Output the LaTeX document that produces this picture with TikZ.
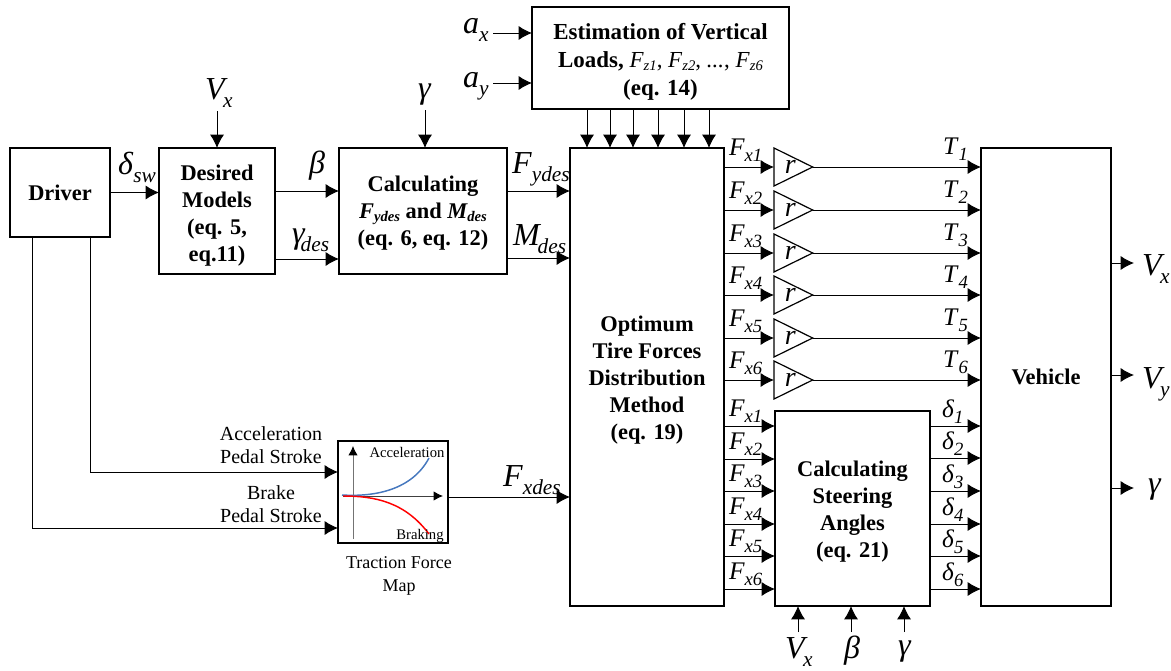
\documentclass[tikz,border=0pt]{standalone}
\usepackage{fontspec}
\setmainfont{Liberation Serif}
\usepackage{tikz}
\usetikzlibrary{arrows.meta,positioning,calc,shapes.geometric}

% symbol with subscript: #1 letter, #2 index
\newcommand{\symF}[2]{{\fontsize{19}{19}\selectfont\textit{#1}}\raisebox{-4.5pt}{\fontsize{14}{14}\selectfont\textit{#2}}}
\newcommand{\symB}[2]{{\fontsize{24}{24}\selectfont\textit{#1}}\raisebox{-6pt}{\fontsize{16}{16}\selectfont\textit{#2}}}
\newcommand{\symL}[2]{\textit{#1}\raisebox{-2.5pt}{\fontsize{11}{11}\selectfont\textit{#2}}}
\newcommand{\symR}{\hspace*{7pt}\raisebox{-6pt}{\fontsize{21}{21}\selectfont\textit{r}}}
% taller first line, pushes a block text down
\newcommand{\dropby}[1]{\rule{0pt}{#1}}

\tikzset{
  blockbox/.style={draw, line width=1.1pt, inner sep=0pt, outer sep=0pt, align=center, font=\fontsize{16.8}{20.25}\selectfont\bfseries},
  gainbox/.style={draw, line width=0.9pt, shape=isosceles triangle, isosceles triangle stretches, minimum width=28.5pt, minimum height=29pt, inner sep=0pt, outer sep=0pt, anchor=west},
  arr/.style={-{Latex[length=10pt,width=10.5pt]}, line width=0.7pt},
  sym/.style={anchor=base west, inner sep=0pt, outer sep=0pt},
  lbl/.style={inner sep=0pt, align=center, font=\fontsize{13.5}{17.5}\selectfont}
}

\begin{document}
\begin{tikzpicture}[x=0.75pt, y=-0.75pt]
\useasboundingbox (0,0) rectangle (1171,671);

% main blocks
\node[blockbox, minimum width=75pt, minimum height=66.75pt] (driver) at (60,192.5) {Driver};
\node[blockbox, minimum width=87pt, minimum height=94.5pt] (desired) at (217,211) {\dropby{19pt}Desired\\Models\\(eq. 5,\\eq.11)};
\node[blockbox, minimum width=126pt, minimum height=94.5pt] (calc) at (423,211) {\dropby{15pt}Calculating\\\textit{F\raisebox{-2pt}{\fontsize{11}{11}\selectfont ydes}} and \textit{M\raisebox{-2pt}{\fontsize{11}{11}\selectfont des}}\\(eq. 6, eq. 12)};
\node[blockbox, minimum width=192.75pt, minimum height=76.5pt, font=\fontsize{17.2}{21}\selectfont\bfseries] (est) at (660.5,58) {\dropby{17.5pt}Estimation of Vertical\\Loads, {\mdseries\symL{F}{z1}, \symL{F}{z2}, \textit{...}, \symL{F}{z6}}\\(eq. 14)};
\node[blockbox, minimum width=115.5pt, minimum height=343.5pt] (opt) at (647,377) {\dropby{16pt}Optimum\\Tire Forces\\Distribution\\Method\\(eq. 19)};
\node[blockbox, minimum width=97.5pt, minimum height=343.5pt] (veh) at (1046,377) {Vehicle};
\node[blockbox, minimum width=116.25pt, minimum height=146.25pt] (steer) at (852.5,508.5) {\dropby{16pt}Calculating\\Steering\\Angles\\(eq. 21)};
\node[blockbox, minimum width=82.5pt, minimum height=76.5pt] (map) at (393,492) {};

% traction force map
\coordinate (mapv) at (353,539);
\coordinate (maph) at (343,496);
\draw[-{Latex[length=7pt,width=7pt,black]}, line width=0.7pt, black!55] (mapv) -- (353,446);
\draw[-{Latex[length=7pt,width=7pt,black]}, line width=0.7pt, black!75] (maph) -- (443,496);
\draw[line width=1.1pt, color={rgb,255:red,70;green,120;blue,190}] (342,495) .. controls (375,497) and (412,490) .. (429,458);
\draw[line width=1.1pt, red] (343,496) .. controls (375,496) and (405,502) .. (429,534);
\node[lbl, font=\fontsize{11}{11}\selectfont] (mapacc) at (407,452) {Acceleration};
\node[lbl, font=\fontsize{11}{11}\selectfont] (mapbrk) at (420,536) {Braking};
\node[lbl] (maptitle) at (399,576) {Traction Force\\Map};

% driver connections
\coordinate (pedacc) at (90,472);
\coordinate (pedbrk) at (32,528);
\draw[arr] (driver.east) -- (desired.west |- driver.east);
\draw[arr] (driver.south -| pedacc) -- (pedacc) -- (map.west |- pedacc);
\draw[arr] (driver.south -| pedbrk) -- (pedbrk) -- (map.west |- pedbrk);
\node[lbl, font=\fontsize{15}{17.5}\selectfont] (acclbl) at (271,445) {Acceleration\\Pedal Stroke};
\node[lbl, font=\fontsize{15}{17.5}\selectfont] (brklbl) at (271,504) {Brake\\Pedal Stroke};
\node[sym] (dsw) at (118,174) {\symB{δ}{sw}};

% top inputs
\coordinate (vxin) at (217,111);
\coordinate (gamin) at (425,110);
\coordinate (axin) at (493,33);
\coordinate (ayin) at (493,83);
\draw[arr] (vxin) -- (desired.north -| vxin);
\draw[arr] (gamin) -- (calc.north -| gamin);
\draw[arr] (axin) -- (est.west |- axin);
\draw[arr] (ayin) -- (est.west |- ayin);
\node[sym] (vxtop) at (205,99) {\symB{V\kern-1pt}{x}};
\node[sym] (gamtop) at (418,98) {\symB{γ}{}};
\node[sym] (axtop) at (463,33) {\symB{a}{x}};
\node[sym] (aytop) at (463,87) {\symB{a}{y}};

% vertical loads
\draw[arr] (587,0 |- est.south) -- (587,0 |- opt.north);
\draw[arr] (610,0 |- est.south) -- (610,0 |- opt.north);
\draw[arr] (633,0 |- est.south) -- (633,0 |- opt.north);
\draw[arr] (658,0 |- est.south) -- (658,0 |- opt.north);
\draw[arr] (684,0 |- est.south) -- (684,0 |- opt.north);
\draw[arr] (709,0 |- est.south) -- (709,0 |- opt.north);

% between the first blocks
\draw[arr] (desired.east |- 0,191) -- (calc.west |- 0,191);
\draw[arr] (desired.east |- 0,259) -- (calc.west |- 0,259);
\draw[arr] (calc.east |- 0,191) -- (opt.west |- 0,191);
\draw[arr] (calc.east |- 0,258) -- (opt.west |- 0,258);
\draw[arr] (map.east |- 0,497) -- (opt.west |- 0,497);
\node[sym] (betalbl) at (309,173) {\symB{β}{}};
\node[sym] (gdeslbl) at (292,243) {\symB{γ\kern-3pt}{des}};
\node[sym] (fydes) at (512,173) {\symB{F}{ydes}};
\node[sym] (mdes) at (513,245) {\symB{M\kern-1.5pt}{des}};
\node[sym] (fxdes) at (503,486) {\symB{F}{xdes}};

% gains r
\node[gainbox] (gain1) at (774,167) {\symR};
\node[gainbox] (gain2) at (774,210) {\symR};
\node[gainbox] (gain3) at (774,253) {\symR};
\node[gainbox] (gain4) at (774,295) {\symR};
\node[gainbox] (gain5) at (774,338) {\symR};
\node[gainbox] (gain6) at (774,380) {\symR};
\draw[arr] (opt.east |- gain1.west) -- (gain1.west);
\draw[arr] (opt.east |- gain2.west) -- (gain2.west);
\draw[arr] (opt.east |- gain3.west) -- (gain3.west);
\draw[arr] (opt.east |- gain4.west) -- (gain4.west);
\draw[arr] (opt.east |- gain5.west) -- (gain5.west);
\draw[arr] (opt.east |- gain6.west) -- (gain6.west);
\draw[arr] (gain1.east) -- (veh.west |- gain1.east);
\draw[arr] (gain2.east) -- (veh.west |- gain2.east);
\draw[arr] (gain3.east) -- (veh.west |- gain3.east);
\draw[arr] (gain4.east) -- (veh.west |- gain4.east);
\draw[arr] (gain5.east) -- (veh.west |- gain5.east);
\draw[arr] (gain6.east) -- (veh.west |- gain6.east);
\node[sym] (fa1) at (729,155) {\symF{F}{x1}};
\node[sym] (fa2) at (729,198) {\symF{F}{x2}};
\node[sym] (fa3) at (729,241) {\symF{F}{x3}};
\node[sym] (fa4) at (729,283) {\symF{F}{x4}};
\node[sym] (fa5) at (729,326) {\symF{F}{x5}};
\node[sym] (fa6) at (729,368) {\symF{F}{x6}};
\node[sym] (t1) at (943,154) {\symF{T}{1}};
\node[sym] (t2) at (943,197) {\symF{T}{2}};
\node[sym] (t3) at (943,240) {\symF{T}{3}};
\node[sym] (t4) at (943,282) {\symF{T}{4}};
\node[sym] (t5) at (943,325) {\symF{T}{5}};
\node[sym] (t6) at (943,367) {\symF{T}{6}};

% steering block
\draw[arr] (opt.east |- 0,426) -- (steer.west |- 0,426);
\draw[arr] (opt.east |- 0,459) -- (steer.west |- 0,459);
\draw[arr] (opt.east |- 0,491) -- (steer.west |- 0,491);
\draw[arr] (opt.east |- 0,524) -- (steer.west |- 0,524);
\draw[arr] (opt.east |- 0,556) -- (steer.west |- 0,556);
\draw[arr] (opt.east |- 0,589) -- (steer.west |- 0,589);
\draw[arr] (steer.east |- 0,426) -- (veh.west |- 0,426);
\draw[arr] (steer.east |- 0,458) -- (veh.west |- 0,458);
\draw[arr] (steer.east |- 0,491) -- (veh.west |- 0,491);
\draw[arr] (steer.east |- 0,524) -- (veh.west |- 0,524);
\draw[arr] (steer.east |- 0,556) -- (veh.west |- 0,556);
\draw[arr] (steer.east |- 0,589) -- (veh.west |- 0,589);
\node[sym] (fb1) at (729,416) {\symF{F}{x1}};
\node[sym] (fb2) at (729,449) {\symF{F}{x2}};
\node[sym] (fb3) at (729,481) {\symF{F}{x3}};
\node[sym] (fb4) at (729,514) {\symF{F}{x4}};
\node[sym] (fb5) at (729,546) {\symF{F}{x5}};
\node[sym] (fb6) at (729,579) {\symF{F}{x6}};
\node[sym] (d1) at (942,417) {\symF{δ}{1}};
\node[sym] (d2) at (942,449) {\symF{δ}{2}};
\node[sym] (d3) at (942,482) {\symF{δ}{3}};
\node[sym] (d4) at (942,515) {\symF{δ}{4}};
\node[sym] (d5) at (942,547) {\symF{δ}{5}};
\node[sym] (d6) at (942,580) {\symF{δ}{6}};

% steering inputs
\coordinate (vxlow) at (798,632);
\coordinate (betalow) at (851,632);
\coordinate (gamlow) at (904,632);
\draw[arr] (vxlow) -- (steer.south -| vxlow);
\draw[arr] (betalow) -- (steer.south -| betalow);
\draw[arr] (gamlow) -- (steer.south -| gamlow);
\node[sym] (vxbot) at (785,658) {\symB{V\kern-1pt}{x}};
\node[sym] (betabot) at (844,658) {\symB{β}{}};
\node[sym] (gambot) at (898,655) {\symB{γ}{}};

% vehicle outputs
\coordinate (vxout) at (1134,263);
\coordinate (vyout) at (1134,375);
\coordinate (gamout) at (1134,488);
\draw[arr] (veh.east |- vxout) -- (vxout);
\draw[arr] (veh.east |- vyout) -- (vyout);
\draw[arr] (veh.east |- gamout) -- (gamout);
\node[sym] (vxright) at (1142,275) {\symB{V\kern-1pt}{x}};
\node[sym] (vyright) at (1142,388) {\symB{V\kern-1pt}{y}};
\node[sym] (gamright) at (1148,493) {\symB{γ}{}};

\end{tikzpicture}
\end{document}
